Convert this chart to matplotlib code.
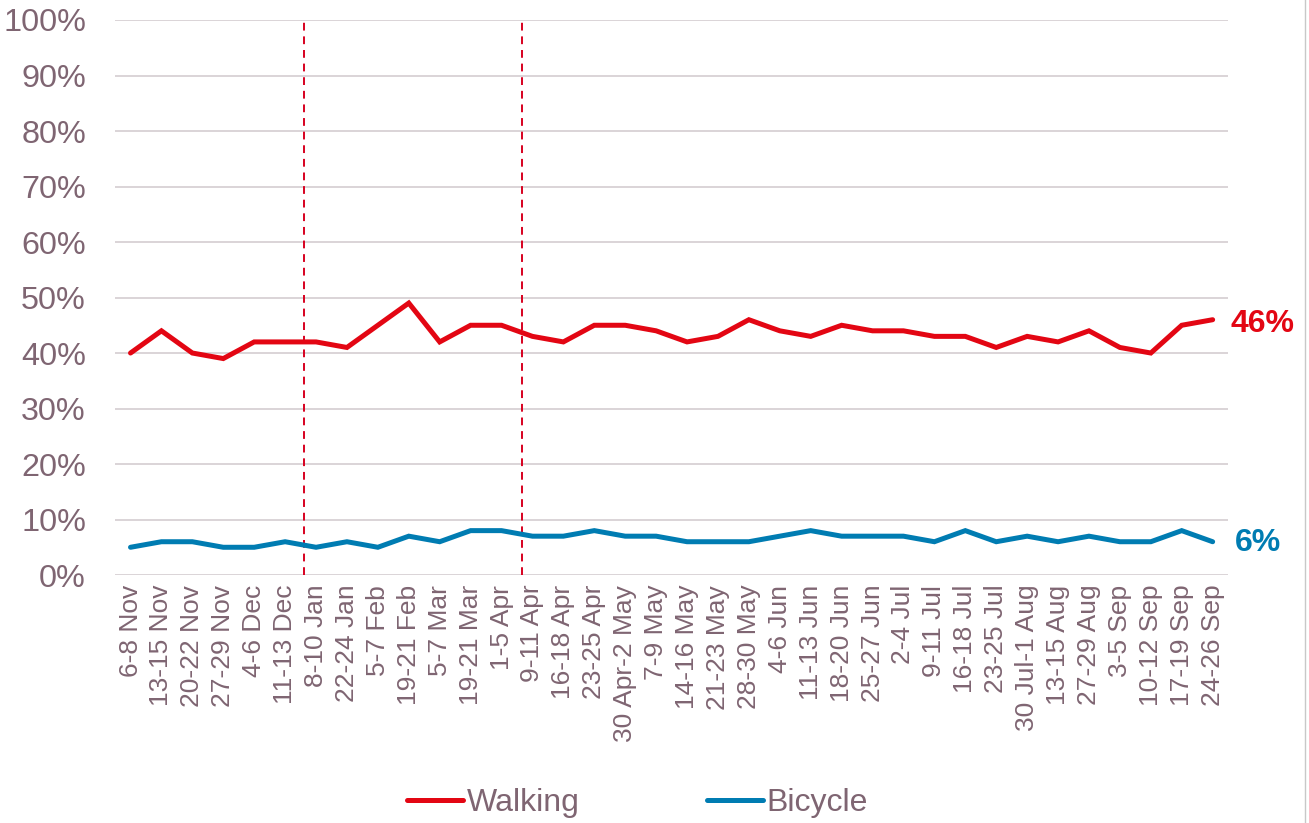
import matplotlib.pyplot as plt
from matplotlib.lines import Line2D

plt.rcParams['font.family'] = ['Liberation Sans', 'DejaVu Sans']

# weekend periods
periods = ['6-8 Nov', '13-15 Nov', '20-22 Nov', '27-29 Nov', '4-6 Dec', '11-13 Dec',
           '8-10 Jan', '22-24 Jan', '5-7 Feb', '19-21 Feb', '5-7 Mar', '19-21 Mar',
           '1-5 Apr', '9-11 Apr', '16-18 Apr', '23-25 Apr', '30 Apr-2 May', '7-9 May',
           '14-16 May', '21-23 May', '28-30 May', '4-6 Jun', '11-13 Jun', '18-20 Jun',
           '25-27 Jun', '2-4 Jul', '9-11 Jul', '16-18 Jul', '23-25 Jul', '30 Jul-1 Aug',
           '13-15 Aug', '27-29 Aug', '3-5 Sep', '10-12 Sep', '17-19 Sep', '24-26 Sep']

walking = [40, 44, 40, 39, 42, 42, 42, 41, 45, 49, 42, 45, 45, 43, 42, 45, 45, 44,
           42, 43, 46, 44, 43, 45, 44, 44, 43, 43, 41, 43, 42, 44, 41, 40, 45, 46]
bicycle = [5, 6, 6, 5, 5, 6, 5, 6, 5, 7, 6, 8, 8, 7, 7, 8, 7, 7,
           6, 6, 6, 7, 8, 7, 7, 7, 6, 8, 6, 7, 6, 7, 6, 6, 8, 6]

# positions of the dashed markers (between periods)
markers = [5.6, 12.65]

red = '#e30613'
blue = '#007cb2'
text_col = '#7f6572'
grid_col = '#dad4d7'

fig = plt.figure(figsize=(13.09, 8.23), dpi=100)
ax = fig.add_axes([0.0879, 0.3013, 0.8503, 0.6744])

x = list(range(len(periods)))
ax.plot(x, walking, color=red, lw=3.6, solid_joinstyle='miter', solid_capstyle='round', label='Walking', zorder=3)
ax.plot(x, bicycle, color=blue, lw=3.6, solid_joinstyle='miter', solid_capstyle='round', label='Bicycle', zorder=3)

for m in markers:
    ax.axvline(m, color='#d7001f', lw=1.4, ls=(0, (4, 3)), zorder=2)

ax.set_xlim(-0.5, len(periods) - 0.5)
ax.set_ylim(0, 100)
ax.set_yticks(range(0, 101, 10))
ax.set_yticklabels([f'{v}%' for v in range(0, 101, 10)])
ax.set_xticks(x)
ax.set_xticklabels(periods, rotation=90)
ax.yaxis.grid(True, color=grid_col, lw=1.4)
ax.set_axisbelow(True)
for s in ax.spines.values():
    s.set_visible(False)
ax.tick_params(axis='y', length=0, pad=21, labelsize=23.3, labelcolor=text_col)
ax.tick_params(axis='x', length=0, pad=7, labelsize=19, labelcolor=text_col)

# end labels
ax.annotate(f'{walking[-1]}%', (x[-1], walking[-1]), xytext=(13, -3), textcoords='offset points',
            color=red, fontsize=23, fontweight='bold', va='center', ha='left', annotation_clip=False)
ax.annotate(f'{bicycle[-1]}%', (x[-1], bicycle[-1]), xytext=(16, -1), textcoords='offset points',
            color=blue, fontsize=23, fontweight='bold', va='center', ha='left', annotation_clip=False)

handles = [Line2D([], [], color=red, lw=3.6, solid_capstyle='round'),
           Line2D([], [], color=blue, lw=3.6, solid_capstyle='round')]
leg = fig.legend(handles, ['Walking', 'Bicycle'], loc='center', bbox_to_anchor=(0.487, 0.024),
                 ncol=2, frameon=False, fontsize=23, handlelength=1.75, handletextpad=0.1,
                 columnspacing=4.0)
for t in leg.get_texts():
    t.set_color(text_col)

# thin border on the right edge
fig.add_artist(Line2D([0.9966, 0.9966], [0, 1], color='#c8c8c8', lw=1))

fig.savefig('out.png', dpi=100)
